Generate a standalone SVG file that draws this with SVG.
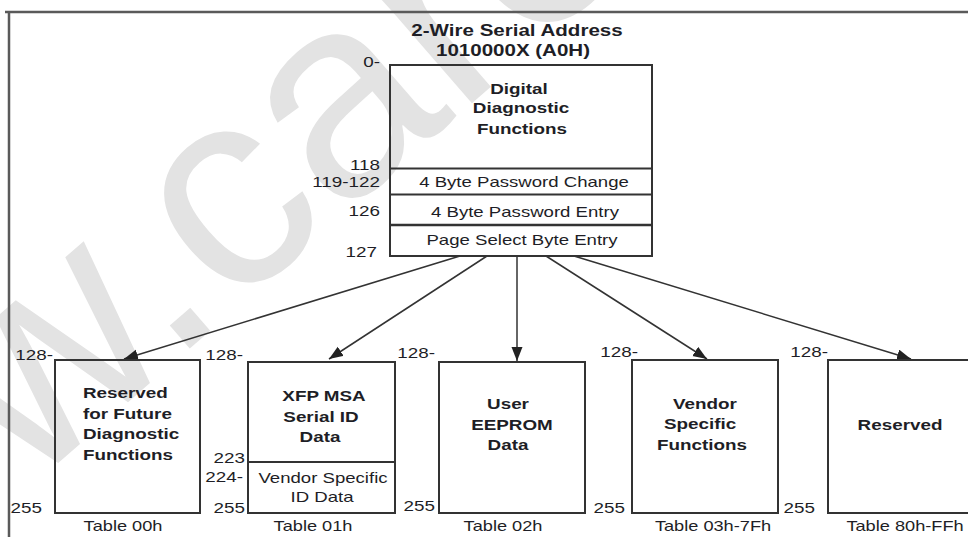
<svg xmlns="http://www.w3.org/2000/svg" width="968" height="537" viewBox="0 0 968 537">
<style>
text{font-family:"Liberation Sans",Arial,sans-serif;fill:#1e1e26}
.b{font-weight:bold;font-size:14.5px}
.r{font-size:14.3px}
.n{font-size:14.5px;text-anchor:end}
.m{text-anchor:middle}
.tl{font-size:14px;text-anchor:middle}
.box{fill:none;stroke:#333;stroke-width:2}
.div{stroke:#333;stroke-width:2}
.frame{fill:none;stroke:#5a5a5a;stroke-width:2.5}
.con{fill:none;stroke:#333;stroke-width:1.5}
.wm{font-size:285px;fill:#e3e3e3}
</style>
<defs>
<marker id="ah" markerUnits="userSpaceOnUse" markerWidth="15" markerHeight="12" refX="14" refY="5.5" orient="auto">
<path d="M0,0 L14,5.5 L0,11 z" fill="#222"/>
</marker>
</defs>
<rect width="968" height="537" fill="#fff"/>
<g id="watermark">
<text class="wm" transform="translate(202,318) rotate(-41)" x="-657" y="15">www.care</text>
</g>
<path class="frame" d="M5,12 H968 M9,12 V537"/>
<g id="title">
<text class="b m" style="font-size:15.8px" transform="translate(517,0) scale(1.3,1)" y="36">2-Wire Serial Address</text>
<text class="b m" style="font-size:15.8px" transform="translate(513,0) scale(1.3,1)" y="56">1010000X (A0H)</text>
</g>
<g id="top-map">
<rect class="box" x="390" y="65" width="262" height="191"/>
<line class="div" x1="390" y1="168.5" x2="652" y2="168.5"/>
<line class="div" x1="390" y1="194.5" x2="652" y2="194.5"/>
<line class="div" x1="390" y1="225" x2="652" y2="225" style="stroke-width:2.5"/>
<text class="b m" transform="translate(519,0) scale(1.3,1)" y="94">Digital</text>
<text class="b m" transform="translate(521,0) scale(1.3,1)" y="113">Diagnostic</text>
<text class="b m" transform="translate(522,0) scale(1.3,1)" y="134">Functions</text>
<text class="r m" transform="translate(524,0) scale(1.3,1)" y="187">4 Byte Password Change</text>
<text class="r m" transform="translate(525,0) scale(1.3,1)" y="217">4 Byte Password Entry</text>
<text class="r m" transform="translate(522,0) scale(1.3,1)" y="245">Page Select Byte Entry</text>
<text class="n" transform="translate(380,0) scale(1.3,1)" y="67">0-</text>
<text class="n" transform="translate(380,0) scale(1.3,1)" y="170">118</text>
<text class="n" transform="translate(380,0) scale(1.3,1)" y="187">119-122</text>
<text class="n" transform="translate(380,0) scale(1.3,1)" y="216">126</text>
<text class="n" transform="translate(377,0) scale(1.3,1)" y="257">127</text>
</g>
<g id="connectors">
<path class="con" d="M460,256 L124,359" marker-end="url(#ah)"/>
<path class="con" d="M487,256 L329,359" marker-end="url(#ah)"/>
<path class="con" d="M517,256 L517,361" marker-end="url(#ah)"/>
<path class="con" d="M546,256 L707,359" marker-end="url(#ah)"/>
<path class="con" d="M574,256 L911,359" marker-end="url(#ah)"/>
</g>
<g id="table-00h">
<rect class="box" x="55" y="360" width="145" height="153"/>
<text class="b" transform="translate(83,0) scale(1.3,1)" y="398">Reserved</text>
<text class="b" transform="translate(83,0) scale(1.3,1)" y="419">for Future</text>
<text class="b" transform="translate(83,0) scale(1.3,1)" y="439">Diagnostic</text>
<text class="b" transform="translate(83,0) scale(1.3,1)" y="460">Functions</text>
<text class="n" transform="translate(53,0) scale(1.3,1)" y="360">128-</text>
<text class="n" transform="translate(42,0) scale(1.3,1)" y="513">255</text>
<text class="tl" transform="translate(123,0) scale(1.3,1)" y="531">Table 00h</text>
</g>
<g id="table-01h">
<rect class="box" x="248" y="362" width="147" height="151"/>
<line class="div" x1="248" y1="462" x2="395" y2="462"/>
<text class="b m" transform="translate(324,0) scale(1.3,1)" y="401">XFP MSA</text>
<text class="b m" transform="translate(321,0) scale(1.3,1)" y="422">Serial ID</text>
<text class="b m" transform="translate(320,0) scale(1.3,1)" y="442">Data</text>
<text class="r m" transform="translate(323,0) scale(1.3,1)" y="483">Vendor Specific</text>
<text class="r m" transform="translate(322,0) scale(1.3,1)" y="502">ID Data</text>
<text class="n" transform="translate(243,0) scale(1.3,1)" y="360">128-</text>
<text class="n" transform="translate(245,0) scale(1.3,1)" y="463">223</text>
<text class="n" transform="translate(243,0) scale(1.3,1)" y="482">224-</text>
<text class="n" transform="translate(245,0) scale(1.3,1)" y="513">255</text>
<text class="tl" transform="translate(313,0) scale(1.3,1)" y="531">Table 01h</text>
</g>
<g id="table-02h">
<rect class="box" x="439" y="362" width="146" height="151"/>
<text class="b m" transform="translate(508,0) scale(1.3,1)" y="409">User</text>
<text class="b m" transform="translate(512,0) scale(1.3,1)" y="430">EEPROM</text>
<text class="b m" transform="translate(508,0) scale(1.3,1)" y="450">Data</text>
<text class="n" transform="translate(435,0) scale(1.3,1)" y="358">128-</text>
<text class="n" transform="translate(435,0) scale(1.3,1)" y="511">255</text>
<text class="tl" transform="translate(503,0) scale(1.3,1)" y="531">Table 02h</text>
</g>
<g id="table-03h-7fh">
<rect class="box" x="632" y="360" width="146" height="153"/>
<text class="b m" transform="translate(705,0) scale(1.3,1)" y="409">Vendor</text>
<text class="b m" transform="translate(700,0) scale(1.3,1)" y="429">Specific</text>
<text class="b m" transform="translate(702,0) scale(1.3,1)" y="450">Functions</text>
<text class="n" transform="translate(638,0) scale(1.3,1)" y="357">128-</text>
<text class="n" transform="translate(625,0) scale(1.3,1)" y="513">255</text>
<text class="tl" transform="translate(713,0) scale(1.3,1)" y="531">Table 03h-7Fh</text>
</g>
<g id="table-80h-ffh">
<rect class="box" x="828" y="360" width="144" height="153"/>
<text class="b m" transform="translate(900,0) scale(1.3,1)" y="430">Reserved</text>
<text class="n" transform="translate(828,0) scale(1.3,1)" y="357">128-</text>
<text class="n" transform="translate(815,0) scale(1.3,1)" y="513">255</text>
<text class="tl" transform="translate(905,0) scale(1.3,1)" y="531">Table 80h-FFh</text>
</g>
</svg>
